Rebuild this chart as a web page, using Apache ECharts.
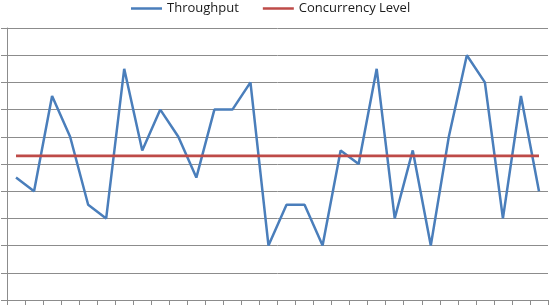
<!DOCTYPE html>
<html>
<head>
<meta charset="utf-8">
<script src="https://cdn.jsdelivr.net/npm/echarts@6/dist/echarts.min.js"></script>
<style>
html,body{margin:0;padding:0;background:#fff;}
#chart{width:550px;height:306px;}
</style>
</head>
<body>
<div id="chart"></div>
<script>
var categories = ['1','2','3','4','5','6','7','8','9','10','11','12','13','14','15','16','17','18','19','20','21','22','23','24','25','26','27','28','29','30'];
var throughput = [4.5,4,7.5,6,3.5,3,8.5,5.5,7,6,4.5,7,7,8,2,3.5,3.5,2,5.5,5,8.5,3,5.5,2,6,9,8,3,7.5,4];
var concurrency = [5.3,5.3,5.3,5.3,5.3,5.3,5.3,5.3,5.3,5.3,5.3,5.3,5.3,5.3,5.3,5.3,5.3,5.3,5.3,5.3,5.3,5.3,5.3,5.3,5.3,5.3,5.3,5.3,5.3,5.3];
var seriesNames = ['Throughput','Concurrency Level'];

var chart = echarts.init(document.getElementById('chart'));
chart.setOption({
  animation: false,
  legend: {
    top: 1,
    left: 131,
    itemWidth: 31,
    itemHeight: 2.5,
    itemGap: 24,
    icon: 'rect',
    padding: 0,
    textStyle: {fontFamily: 'Open Sans', fontSize: 13, color: '#1a1a1a', lineHeight: 15},
    data: seriesNames
  },
  grid: {left: 7, right: 2, top: 28, bottom: 6, containLabel: false},
  xAxis: {
    type: 'category',
    data: categories,
    boundaryGap: true,
    axisLine: {lineStyle: {color: '#8c8c8c', width: 1}},
    axisTick: {show: true, length: 5, lineStyle: {color: '#8c8c8c'}},
    axisLabel: {show: false},
    splitLine: {show: false}
  },
  yAxis: {
    type: 'value',
    min: 0,
    max: 10,
    interval: 1,
    axisLine: {show: true, lineStyle: {color: '#8c8c8c', width: 1}},
    axisTick: {show: true, length: 6, lineStyle: {color: '#8c8c8c'}},
    axisLabel: {show: false},
    splitLine: {show: true, lineStyle: {color: '#8c8c8c', width: 1}}
  },
  series: [
    {
      name: seriesNames[0],
      type: 'line',
      data: throughput,
      symbol: 'none',
      color: '#4a7ebb',
      lineStyle: {width: 2.5, color: '#4a7ebb'}
    },
    {
      name: seriesNames[1],
      type: 'line',
      data: concurrency,
      symbol: 'none',
      color: '#be4b48',
      lineStyle: {width: 2.8, color: '#be4b48'}
    }
  ]
});
</script>
</body>
</html>
